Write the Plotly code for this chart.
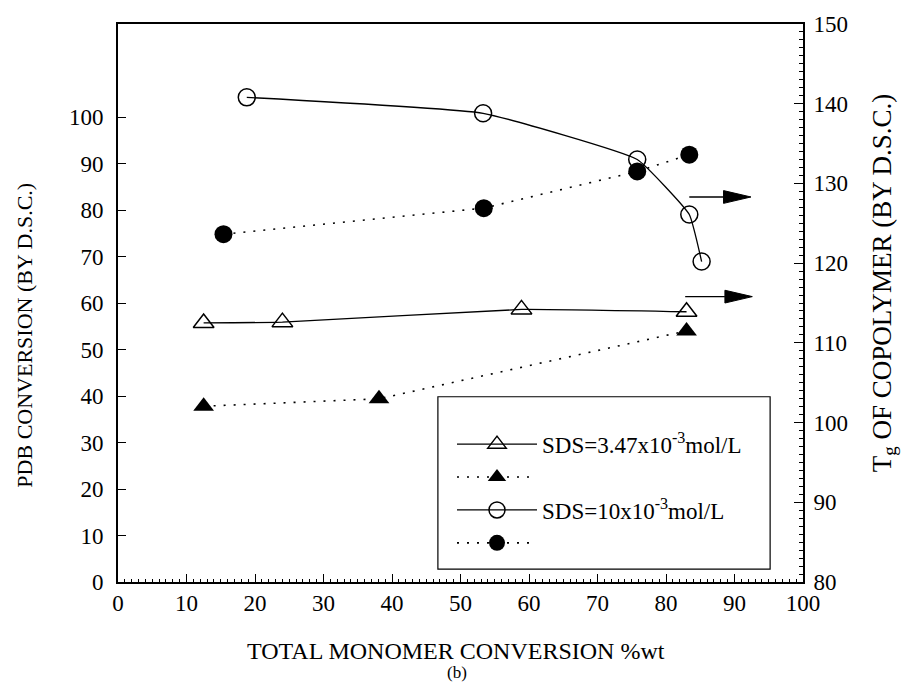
import plotly.graph_objects as go

# ---- data ----
x_open_tri = [12.5, 24.0, 58.9, 83.0]
tg_open_tri = [112.5, 112.6, 114.2, 113.9]

x_fill_tri = [12.5, 38.1, 83.0]
pdb_fill_tri = [37.8, 39.4, 54.0]

x_open_circ = [18.8, 53.3, 75.8, 83.4, 85.2]
tg_open_circ = [140.8, 138.8, 133.0, 126.1, 120.2]

x_fill_circ = [15.4, 53.4, 75.8, 83.4]
pdb_fill_circ = [74.8, 80.4, 88.3, 91.9]

x_ticks = list(range(0, 101, 10))
left_ticks = list(range(0, 101, 10))
right_ticks = list(range(80, 151, 10))

# arrows pointing to the right (Tg) axis: tail x, tip x, Tg level
arrow_tail_x = [83.4, 82.8]
arrow_tip_x = [92.4, 92.6]
arrow_y = [128.3, 115.8]
ARROW_HEAD_LEN = 4.0    # in x units
ARROW_HEAD_HALF = 0.8   # in Tg units

FONT = "Liberation Serif, Times New Roman, serif"
DOT = "2px,8px"

fig = go.Figure()

fig.add_trace(go.Scatter(
    x=x_open_tri, y=tg_open_tri, yaxis="y2", mode="lines+markers",
    name="SDS=3.47x10<sup>-3</sup>mol/L", legendgroup="a",
    line=dict(color="black", width=1.3, shape="spline", smoothing=0.3),
    marker=dict(symbol="triangle-up-open", size=18, color="black",
                line=dict(width=1.5, color="black"))))
fig.add_trace(go.Scatter(
    x=x_fill_tri, y=pdb_fill_tri, mode="lines+markers",
    name=" ", legendgroup="b",
    line=dict(color="black", width=1.6, dash=DOT),
    marker=dict(symbol="triangle-up", size=18, color="black")))
fig.add_trace(go.Scatter(
    x=x_open_circ, y=tg_open_circ, yaxis="y2", mode="lines+markers",
    name="SDS=10x10<sup>-3</sup>mol/L", legendgroup="c",
    line=dict(color="black", width=1.3, shape="spline", smoothing=0.35),
    marker=dict(symbol="circle-open", size=17, color="black",
                line=dict(width=1.5, color="black"))))
fig.add_trace(go.Scatter(
    x=x_fill_circ, y=pdb_fill_circ, mode="lines+markers",
    name=" ", legendgroup="d",
    line=dict(color="black", width=1.6, dash=DOT),
    marker=dict(symbol="circle", size=18, color="black")))

shapes = []
# legend frame
shapes.append(dict(type="rect", xref="paper", yref="paper",
                   x0=0.467, x1=0.952, y0=0.023, y1=0.332,
                   line=dict(color="black", width=1.2), fillcolor="white",
                   layer="below"))
for tx, hx, ay in zip(arrow_tail_x, arrow_tip_x, arrow_y):
    shapes.append(dict(type="line", xref="x", yref="y2",
                       x0=tx, x1=hx - ARROW_HEAD_LEN, y0=ay, y1=ay,
                       line=dict(color="black", width=1.3)))
    path = "M{},{} L{},{} L{},{} Z".format(
        hx - ARROW_HEAD_LEN, ay - ARROW_HEAD_HALF, hx, ay,
        hx - ARROW_HEAD_LEN, ay + ARROW_HEAD_HALF)
    shapes.append(dict(type="path", xref="x", yref="y2", path=path,
                       fillcolor="black", line=dict(color="black", width=1)))

annotations = [
    dict(text="TOTAL MONOMER CONVERSION %wt", xref="paper", yref="paper",
         x=(456 - 118) / 685, y=-(652 - 582) / 564, showarrow=False,
         font=dict(family=FONT, size=24, color="black"),
         xanchor="center", yanchor="middle"),
    dict(text="(b)", xref="paper", yref="paper",
         x=(457 - 118) / 685, y=-(673 - 582) / 564, showarrow=False,
         font=dict(family=FONT, size=17, color="black"),
         xanchor="center", yanchor="middle"),
    dict(text="PDB CONVERSION (BY D.S.C.)", xref="paper", yref="paper",
         x=(25 - 118) / 685, y=(582 - 333) / 564, showarrow=False,
         textangle=-90, font=dict(family=FONT, size=22, color="black"),
         xanchor="center", yanchor="middle"),
    dict(text="T<sub>g</sub> OF COPOLYMER (BY D.S.C.)", xref="paper", yref="paper",
         x=(884 - 118) / 685, y=(582 - 280) / 564, showarrow=False,
         textangle=-90, font=dict(family=FONT, size=27, color="black"),
         xanchor="center", yanchor="middle"),
]

fig.update_layout(
    width=903, height=683,
    margin=dict(l=118, r=100, t=19, b=101),
    paper_bgcolor="white", plot_bgcolor="white",
    font=dict(family=FONT, size=20, color="black"),
    showlegend=True,
    legend=dict(x=(452 - 118) / 685, y=(582 - 421) / 564,
                xanchor="left", yanchor="top",
                bgcolor="rgba(0,0,0,0)", borderwidth=0,
                font=dict(family=FONT, size=23, color="black"),
                traceorder="grouped", tracegroupgap=0, itemwidth=80),
    xaxis=dict(range=[0, 100], tickvals=x_ticks, ticks="inside", ticklen=8,
               tickwidth=1.2, tickcolor="black", showgrid=False, zeroline=False,
               showline=True, linecolor="black", linewidth=1.6, mirror=True,
               tickfont=dict(family=FONT, size=23),
               minor=dict(dtick=1, ticks="inside", ticklen=3, tickcolor="black",
                          tickwidth=1)),
    yaxis=dict(range=[0, 120], tickvals=left_ticks, ticks="inside", ticklen=8,
               tickwidth=1.2, tickcolor="black", showgrid=False, zeroline=False,
               showline=True, linecolor="black", linewidth=1.6,
               ticklabelstandoff=8,
               tickfont=dict(family=FONT, size=23)),
    yaxis2=dict(range=[80, 150], tickvals=right_ticks, overlaying="y", side="right",
                anchor="x", ticks="inside", ticklen=9, tickwidth=1.2,
                tickcolor="black", showgrid=False, zeroline=False,
                showline=True, linecolor="black", linewidth=1.6,
                ticklabelstandoff=4,
                tickfont=dict(family=FONT, size=23),
                minor=dict(dtick=1, ticks="inside", ticklen=4, tickcolor="black",
                           tickwidth=1)),
    shapes=shapes,
    annotations=annotations,
)

fig.write_html("out.html")
